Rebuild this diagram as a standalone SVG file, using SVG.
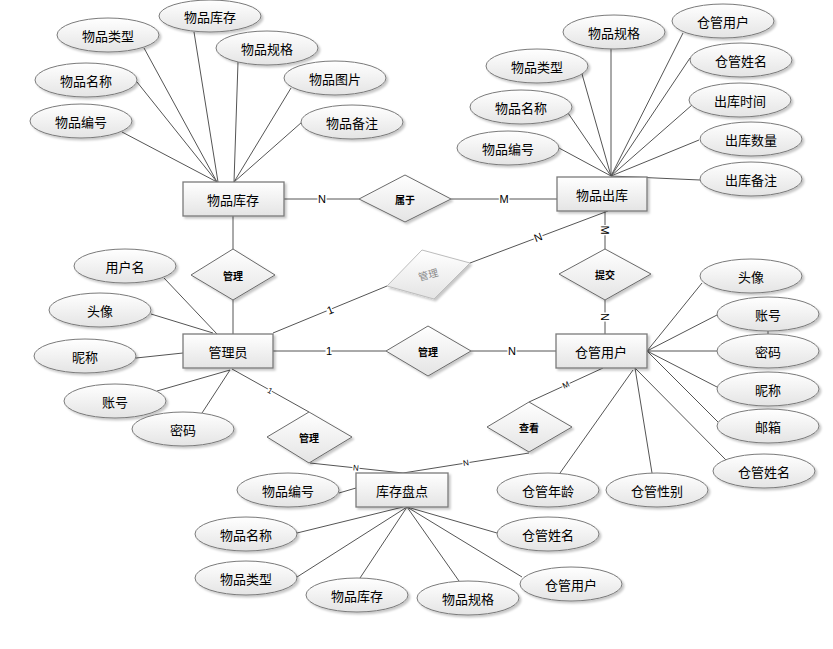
<svg xmlns="http://www.w3.org/2000/svg" width="833" height="649" viewBox="0 0 833 649">
<defs>
<linearGradient id="g" x1="0" y1="0" x2="0" y2="1">
<stop offset="0" stop-color="#ffffff"/>
<stop offset="1" stop-color="#e4e4e4"/>
</linearGradient>
<filter id="sh" x="-20%" y="-30%" width="150%" height="170%">
<feDropShadow dx="2" dy="2" stdDeviation="1.2" flood-color="#000" flood-opacity="0.22"/>
</filter>
<style>
.c line, .c polyline { stroke:#555; stroke-width:1; fill:none; }
.a ellipse { fill:url(#g); stroke:#7a7a7a; stroke-width:1; filter:url(#sh); }
.e rect { fill:url(#g); stroke:#7a7a7a; stroke-width:1.3; filter:url(#sh); }
.r polygon { fill:url(#g); stroke:#6a6a6a; stroke-width:1; filter:url(#sh); }
text { font-family:"Noto Sans CJK SC","Liberation Sans",sans-serif; fill:#000; text-anchor:middle; dominant-baseline:central; }
.t { font-size:13px; }
.rt { font-size:10px; font-weight:bold; }
.lb { font-family:"Liberation Sans","Noto Sans CJK SC",sans-serif; font-size:11px; stroke:#fff; stroke-width:3; paint-order:stroke; }
.lbs { font-family:"Liberation Sans","Noto Sans CJK SC",sans-serif; font-size:8px; stroke:#fff; stroke-width:2.5; paint-order:stroke; }
</style>
</defs>
<rect width="833" height="649" fill="#fff"/>

<g id="connectors" class="c">
<!-- 物品库存 attributes -->
<line x1="122" y1="132" x2="217" y2="182"/>
<line x1="137" y1="82" x2="217" y2="182"/>
<line x1="144" y1="48" x2="217" y2="182"/>
<line x1="194" y1="32" x2="218" y2="182"/>
<line x1="238" y1="62" x2="234" y2="182"/>
<line x1="291" y1="88" x2="234" y2="182"/>
<line x1="302" y1="122" x2="234" y2="182"/>
<!-- 物品出库 attributes -->
<line x1="559" y1="148" x2="611" y2="176"/>
<line x1="568" y1="113" x2="611" y2="176"/>
<line x1="582" y1="74" x2="611" y2="176"/>
<line x1="611" y1="48" x2="611" y2="176"/>
<line x1="683" y1="33" x2="611" y2="176"/>
<line x1="690" y1="58" x2="611" y2="176"/>
<line x1="692" y1="105" x2="611" y2="176"/>
<line x1="699" y1="140" x2="611" y2="176"/>
<line x1="700" y1="180" x2="611" y2="176"/>
<!-- 管理员 attributes -->
<line x1="164" y1="278" x2="217" y2="334"/>
<line x1="151" y1="314" x2="213" y2="333"/>
<line x1="136" y1="358" x2="183" y2="353"/>
<line x1="157" y1="391" x2="230" y2="370"/>
<line x1="202" y1="413" x2="230" y2="370"/>
<!-- 仓管用户 attributes -->
<line x1="702" y1="283" x2="647" y2="351"/>
<line x1="717" y1="315" x2="647" y2="351"/>
<line x1="717" y1="351" x2="647" y2="351"/>
<line x1="717" y1="387" x2="647" y2="351"/>
<line x1="718" y1="422" x2="647" y2="351"/>
<line x1="726" y1="460" x2="635" y2="368"/>
<line x1="652" y1="473" x2="635" y2="368"/>
<line x1="560" y1="473" x2="633" y2="370"/>
<line x1="768" y1="331" x2="768" y2="335"/>
<!-- 库存盘点 attributes -->
<line x1="339" y1="493" x2="356" y2="488"/>
<line x1="297" y1="533" x2="403" y2="507"/>
<line x1="297" y1="577" x2="407" y2="507"/>
<line x1="360" y1="578" x2="407" y2="507"/>
<line x1="459" y1="581" x2="407" y2="507"/>
<line x1="522" y1="577" x2="407" y2="507"/>
<line x1="497" y1="533" x2="407" y2="507"/>
<!-- relationships -->
<line x1="284" y1="199" x2="359" y2="199"/>
<line x1="451" y1="199" x2="557" y2="199"/>
<line x1="233" y1="216" x2="233" y2="249"/>
<line x1="233" y1="300" x2="233" y2="334"/>
<line x1="273" y1="333" x2="387" y2="286"/>
<line x1="470" y1="263" x2="608" y2="211"/>
<line x1="605" y1="211" x2="605" y2="249"/>
<line x1="605" y1="300" x2="605" y2="334"/>
<line x1="273" y1="351" x2="386" y2="351"/>
<line x1="471" y1="351" x2="556" y2="351"/>
<line x1="232" y1="369" x2="309" y2="412"/>
<line x1="310" y1="463" x2="403" y2="473"/>
<line x1="529" y1="453" x2="403" y2="473"/>
<line x1="603" y1="368" x2="529" y2="402"/>
<!-- cardinality labels -->
<text class="lb" x="322" y="199">N</text>
<text class="lb" x="504" y="199">M</text>
<text class="lb" x="330" y="310" transform="rotate(-22 330 310)">1</text>
<text class="lb" x="538" y="237" transform="rotate(-21 538 237)">N</text>
<text class="lb" x="605" y="230" transform="rotate(90 605 230)">M</text>
<text class="lb" x="605" y="317" transform="rotate(90 605 317)">N</text>
<text class="lb" x="329" y="351">1</text>
<text class="lb" x="512" y="351">N</text>
<text class="lbs" x="270" y="391" transform="rotate(29 270 391)">1</text>
<text class="lbs" x="566" y="385" transform="rotate(-25 566 385)">M</text>
<text class="lbs" x="356" y="468" transform="rotate(6 356 468)">N</text>
<text class="lbs" x="466" y="463" transform="rotate(-9 466 463)">N</text>
</g>

<!-- entities -->
<g id="e-wpkc" class="e"><rect x="183" y="182" width="101" height="34"/><text class="t" x="233" y="199">物品库存</text></g>
<g id="e-wpck" class="e"><rect x="557" y="177" width="90" height="34"/><text class="t" x="602" y="194">物品出库</text></g>
<g id="e-gly" class="e"><rect x="183" y="334" width="90" height="34"/><text class="t" x="228" y="351">管理员</text></g>
<g id="e-cgyh" class="e"><rect x="556" y="334" width="91" height="34"/><text class="t" x="601" y="351">仓管用户</text></g>
<g id="e-kcpd" class="e"><rect x="356" y="473" width="92" height="34"/><text class="t" x="402" y="490">库存盘点</text></g>

<!-- relationships -->
<g id="r-shuyu" class="r"><polygon points="359,199 405,175 451,199 405,222"/><text class="rt" x="405" y="199">属于</text></g>
<g id="r-guanli1" class="r"><polygon points="191,275 233,249 275,275 233,300"/><text class="rt" x="233" y="275">管理</text></g>
<g id="r-tijiao" class="r"><polygon points="559,274 605,249 651,274 605,300"/><text class="rt" x="605" y="274">提交</text></g>
<g id="r-guanli-gray" class="r"><polygon points="387,286 422,250 470,263 434,299" style="stroke:#bdbdbd"/><text x="428" y="274" transform="rotate(-15 428 274)" style="font-size:10px;fill:#888">管理</text></g>
<g id="r-guanli2" class="r"><polygon points="386,351 428,326 471,351 428,376"/><text class="rt" x="428" y="351">管理</text></g>
<g id="r-guanli3" class="r"><polygon points="267,437 309,412 352,437 309,463"/><text class="rt" x="309" y="437">管理</text></g>
<g id="r-chakan" class="r"><polygon points="487,427 529,402 572,427 529,452"/><text class="rt" x="529" y="427">查看</text></g>

<!-- attributes of 物品库存 -->
<g id="a1" class="a"><ellipse cx="210" cy="16" rx="51" ry="16"/><text class="t" x="210" y="16">物品库存</text></g>
<g id="a2" class="a"><ellipse cx="108" cy="35" rx="51" ry="17"/><text class="t" x="108" y="35">物品类型</text></g>
<g id="a3" class="a"><ellipse cx="267" cy="48" rx="51" ry="17"/><text class="t" x="267" y="48">物品规格</text></g>
<g id="a4" class="a"><ellipse cx="86" cy="80" rx="51" ry="17"/><text class="t" x="86" y="80">物品名称</text></g>
<g id="a5" class="a"><ellipse cx="335" cy="78" rx="51" ry="17"/><text class="t" x="335" y="78">物品图片</text></g>
<g id="a6" class="a"><ellipse cx="81" cy="121" rx="51" ry="17"/><text class="t" x="81" y="121">物品编号</text></g>
<g id="a7" class="a"><ellipse cx="352" cy="122" rx="51" ry="17"/><text class="t" x="352" y="122">物品备注</text></g>

<!-- attributes of 物品出库 -->
<g id="b1" class="a"><ellipse cx="614" cy="32" rx="51" ry="17"/><text class="t" x="614" y="32">物品规格</text></g>
<g id="b2" class="a"><ellipse cx="723" cy="21" rx="51" ry="17"/><text class="t" x="723" y="21">仓管用户</text></g>
<g id="b3" class="a"><ellipse cx="537" cy="66" rx="51" ry="17"/><text class="t" x="537" y="66">物品类型</text></g>
<g id="b4" class="a"><ellipse cx="741" cy="60" rx="51" ry="17"/><text class="t" x="741" y="60">仓管姓名</text></g>
<g id="b5" class="a"><ellipse cx="521" cy="107" rx="51" ry="17"/><text class="t" x="521" y="107">物品名称</text></g>
<g id="b6" class="a"><ellipse cx="740" cy="100" rx="51" ry="17"/><text class="t" x="740" y="100">出库时间</text></g>
<g id="b7" class="a"><ellipse cx="508" cy="148" rx="51" ry="17"/><text class="t" x="508" y="148">物品编号</text></g>
<g id="b8" class="a"><ellipse cx="751" cy="139" rx="51" ry="17"/><text class="t" x="751" y="139">出库数量</text></g>
<g id="b9" class="a"><ellipse cx="751" cy="179" rx="51" ry="17"/><text class="t" x="751" y="179">出库备注</text></g>

<!-- attributes of 管理员 -->
<g id="c1" class="a"><ellipse cx="125" cy="266" rx="51" ry="17"/><text class="t" x="125" y="266">用户名</text></g>
<g id="c2" class="a"><ellipse cx="100" cy="310" rx="51" ry="17"/><text class="t" x="100" y="310">头像</text></g>
<g id="c3" class="a"><ellipse cx="85" cy="356" rx="51" ry="17"/><text class="t" x="85" y="356">昵称</text></g>
<g id="c4" class="a"><ellipse cx="115" cy="401" rx="51" ry="17"/><text class="t" x="115" y="401">账号</text></g>
<g id="c5" class="a"><ellipse cx="183" cy="429" rx="51" ry="17"/><text class="t" x="183" y="429">密码</text></g>

<!-- attributes of 仓管用户 -->
<g id="d1" class="a"><ellipse cx="751" cy="276" rx="51" ry="17"/><text class="t" x="751" y="276">头像</text></g>
<g id="d2" class="a"><ellipse cx="768" cy="314" rx="51" ry="17"/><text class="t" x="768" y="314">账号</text></g>
<g id="d3" class="a"><ellipse cx="768" cy="351" rx="51" ry="17"/><text class="t" x="768" y="351">密码</text></g>
<g id="d4" class="a"><ellipse cx="768" cy="389" rx="51" ry="17"/><text class="t" x="768" y="389">昵称</text></g>
<g id="d5" class="a"><ellipse cx="768" cy="426" rx="51" ry="17"/><text class="t" x="768" y="426">邮箱</text></g>
<g id="d6" class="a"><ellipse cx="764" cy="471" rx="51" ry="17"/><text class="t" x="764" y="471">仓管姓名</text></g>
<g id="d7" class="a"><ellipse cx="657" cy="490" rx="51" ry="17"/><text class="t" x="657" y="490">仓管性别</text></g>
<g id="d8" class="a"><ellipse cx="548" cy="490" rx="51" ry="17"/><text class="t" x="548" y="490">仓管年龄</text></g>

<!-- attributes of 库存盘点 -->
<g id="f1" class="a"><ellipse cx="288" cy="490" rx="51" ry="17"/><text class="t" x="288" y="490">物品编号</text></g>
<g id="f2" class="a"><ellipse cx="246" cy="534" rx="51" ry="17"/><text class="t" x="246" y="534">物品名称</text></g>
<g id="f3" class="a"><ellipse cx="548" cy="534" rx="51" ry="17"/><text class="t" x="548" y="534">仓管姓名</text></g>
<g id="f4" class="a"><ellipse cx="246" cy="578" rx="51" ry="17"/><text class="t" x="246" y="578">物品类型</text></g>
<g id="f5" class="a"><ellipse cx="357" cy="595" rx="51" ry="17"/><text class="t" x="357" y="595">物品库存</text></g>
<g id="f6" class="a"><ellipse cx="468" cy="598" rx="51" ry="17"/><text class="t" x="468" y="598">物品规格</text></g>
<g id="f7" class="a"><ellipse cx="571" cy="584" rx="51" ry="17"/><text class="t" x="571" y="584">仓管用户</text></g>
</svg>
